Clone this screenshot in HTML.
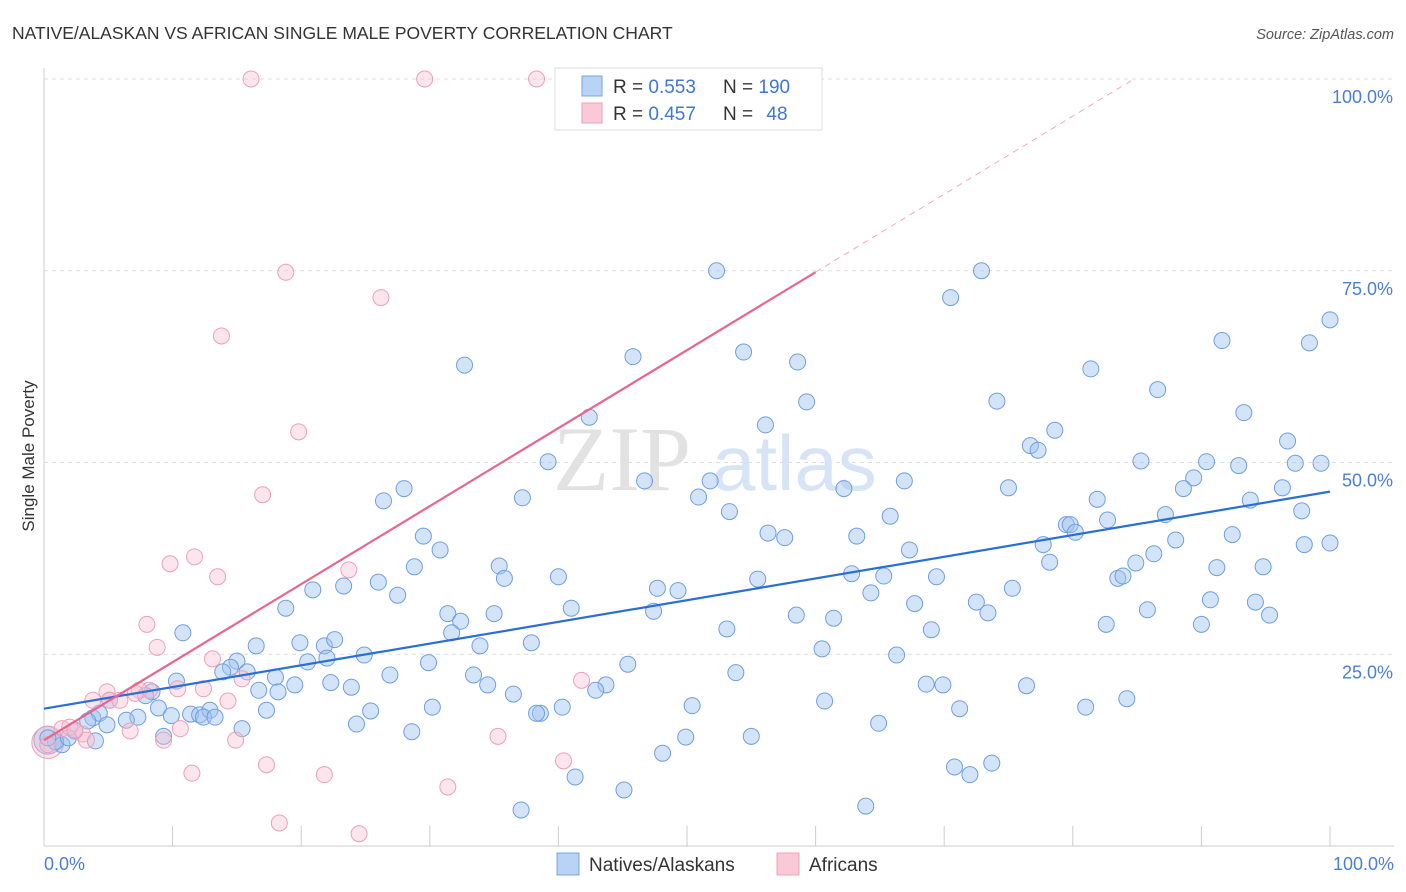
<!DOCTYPE html>
<html><head><meta charset="utf-8"><style>
body{margin:0;background:#fff;font-family:"Liberation Sans",sans-serif;}
svg{display:block}
</style></head><body>
<svg id="chart" width="1406" height="892">
<text x="12" y="39" font-size="17.5" fill="#333">NATIVE/ALASKAN VS AFRICAN SINGLE MALE POVERTY CORRELATION CHART</text>
<text x="1394" y="39" font-size="14.5" fill="#555" font-style="italic" text-anchor="end">Source: ZipAtlas.com</text>
<g id="grid"></g>
<g><text x="553" y="490" font-family="Liberation Serif,serif" font-size="92" fill="#e2e2e2">ZIP</text><text x="712" y="490" font-size="78" fill="#d6e4f5">atlas</text></g>
<text transform="translate(34,456) rotate(-90)" font-size="17" fill="#333" text-anchor="middle">Single Male Poverty</text>
<g id="pts"></g>
<g id="lines"></g>
<g>
<rect x="555" y="68" width="267" height="62" fill="#fff" stroke="#ddd"/>
<rect x="582" y="76" width="20" height="20" fill="#b8d3f5" stroke="#7aa7e0"/>
<rect x="582" y="103" width="20" height="20" fill="#f9c9d7" stroke="#eda0b8"/>
<text x="613" y="93" font-size="19" fill="#333">R = <tspan fill="#3f77d1">0.553</tspan></text>
<text x="723" y="93" font-size="19" fill="#333">N = <tspan fill="#3f77d1">190</tspan></text>
<text x="613" y="120" font-size="19" fill="#333">R = <tspan fill="#3f77d1">0.457</tspan></text>
<text x="723" y="120" font-size="19" fill="#333">N = <tspan fill="#3f77d1" dx="8">48</tspan></text>
</g>
<g>
<rect x="557" y="853" width="22" height="22" fill="#b8d3f5" stroke="#7aa7e0"/>
<text x="589" y="871" font-size="19" fill="#333">Natives/Alaskans</text>
<rect x="777" y="853" width="22" height="22" fill="#f9c9d7" stroke="#eda0b8"/>
<text x="809" y="871" font-size="19" fill="#333">Africans</text>
</g>
</svg>
<script>
const blueX=[52.3,72.9,70.5,100,91.6,98.4,45.8,54.4,58.6,32.7,81.4,86.6,74.1,59.3,42.4,93.3,56.1,78.6,96.7,76.7,77.3,39.2,85.3,90.4,92.9,97.3,99.3,46.7,66.9,89.4,51.8,28.0,62.2,75.0,96.3,26.4,37.2,50.9,88.6,93.8,81.9,53.3,65.8,87.2,97.8,82.7,79.5,79.8,80.2,56.3,57.6,63.2,29.5,92.4,30.8,67.3,77.7,100,88.0,98.0,86.3,84.9,78.2,91.2,94.8,28.8,35.4,35.8,40.0,26.0,47.7,49.3,55.5,62.8,65.3,69.4,83.5,83.9,75.3,20.9,23.3,27.5,64.3,72.5,90.7,94.2,41.0,47.4,67.7,18.8,31.4,35.0,73.4,85.8,58.5,61.4,95.3,32.4,31.7,53.1,69.0,82.6,90.0,10.8,19.9,21.8,22.6,16.5,33.9,37.9,60.5,15.0,14.5,20.5,22.0,24.9,66.3,29.9,45.4,10.3,13.9,15.8,18.0,22.3,23.9,26.9,33.4,34.5,53.8,68.6,69.9,76.4,16.7,18.2,19.5,43.7,42.9,8.4,5.1,7.9,8.9,17.3,36.5,60.7,84.2,30.2,50.4,71.2,81.0,25.4,38.6,38.3,40.3,11.4,12.1,12.9,9.9,7.3,6.4,3.8,4.3,3.4,4.9,12.4,13.3,24.3,15.4,64.9,28.6,9.3,49.9,55.0,4.0,2.4,1.4,0.9,1.9,0.3,48.1,41.3,70.8,72.0,73.7,45.1,63.9,37.1];
const blueY=[75.0,75.0,71.5,68.6,65.9,65.6,63.8,64.4,63.1,62.7,62.2,59.5,58.0,57.9,55.9,56.5,54.9,54.2,52.8,52.2,51.6,50.1,50.2,50.1,49.6,49.9,49.9,47.6,47.6,48.0,47.6,46.6,46.6,46.7,46.7,45.0,45.4,45.5,46.6,45.1,45.2,43.6,43.0,43.2,43.7,42.5,41.9,41.9,40.9,40.8,40.2,40.4,40.4,40.6,38.6,38.6,39.3,39.5,39.9,39.3,38.1,36.9,37.0,36.3,36.4,36.4,36.5,34.9,35.1,34.4,33.6,33.3,34.8,35.5,35.2,35.1,34.9,35.2,33.6,33.4,33.9,32.7,33.0,31.8,32.1,31.8,31.0,30.6,31.6,31.0,30.3,30.3,30.4,30.8,30.1,29.7,30.1,29.3,27.8,28.3,28.2,28.9,28.9,27.8,26.5,26.1,26.9,26.1,26.1,26.5,25.7,24.1,23.3,24.0,24.5,24.9,24.9,23.9,23.7,21.5,22.7,22.7,22.0,21.3,20.7,22.3,22.3,21.0,22.6,21.1,21.0,20.9,20.3,20.1,21.0,21.0,20.3,20.1,19.0,19.6,18.0,17.7,19.8,18.9,19.2,18.1,18.3,17.9,18.1,17.6,17.3,17.3,18.1,17.2,17.1,17.7,17.0,16.8,16.4,16.7,17.3,16.3,15.8,16.8,16.8,15.9,15.3,16.0,14.9,14.3,14.2,14.3,13.7,15.0,13.2,13.6,14.1,14.1,12.1,9.0,10.3,9.3,10.8,7.3,5.2,4.7];
const pinkX=[16.1,29.6,38.3,18.8,26.2,13.8,19.8,17.0,23.7,11.7,9.8,13.5,8.0,8.8,13.1,15.4,8.2,10.4,12.4,7.4,4.9,3.8,5.1,14.3,10.6,6.7,3.0,1.4,2.0,3.3,9.3,14.9,35.3,41.8,40.4,11.5,17.3,21.8,31.4,18.3,24.5,0.3,2.4,5.9,7.1];
const pinkY=[100,100,100,74.8,71.5,66.5,54.0,45.8,36.0,37.7,36.8,35.1,28.9,25.9,24.4,21.8,20.3,20.5,20.5,20.3,20.1,19.0,19.0,18.9,15.3,15.0,14.6,15.3,15.5,13.8,13.8,13.8,14.3,21.6,11.1,9.5,10.6,9.3,7.7,3.0,1.6,13.2,15.1,19.0,19.9];
const blueTrend=[17.9,46.2];
const pinkTrend=[13.8,1.017];
const yTicks=[25,50,75,100];
const yTickLabels=["25.0%","50.0%","75.0%","100.0%"];
const xTicks=[0,10,20,30,40,50,60,70,80,90,100];

const NS="http://www.w3.org/2000/svg";
const sx=v=>44+v*12.86, sy=v=>846-v*7.67;
function mk(tag,attrs,parent){const e=document.createElementNS(NS,tag);for(const k in attrs)e.setAttribute(k,attrs[k]);parent.appendChild(e);return e;}
const grid=document.getElementById('grid');
yTicks.forEach((t,i)=>{
  const l=mk('line',{x1:44,x2:1394,y1:sy(t),y2:sy(t),stroke:'#ddd','stroke-dasharray':'4,4'},grid);
  
  
  const tx=mk('text',{x:1393,y:sy(t)+24,'font-size':18,fill:'#4a7fd4','text-anchor':'end'},grid);
  tx.textContent=yTickLabels[i];
  
  
});
const ax=mk('line',{x1:44,x2:1394,y1:846,y2:846,stroke:'#ccc'},grid);


const ay=mk('line',{x1:44,x2:44,y1:68,y2:846,stroke:'#ccc'},grid);


xTicks.forEach(t=>{
  const l=mk('line',{x1:sx(t),x2:sx(t),y1:826,y2:846,stroke:'#ccc'},grid);
  
  
});
[[0,'0.0%','start',44],[100,'100.0%','end',1394]].forEach(d=>{
  const tx=mk('text',{x:d[3],y:870,'font-size':18,fill:'#4a7fd4','text-anchor':d[2]},grid);
  tx.textContent=d[1];
  
  
});
const pts=document.getElementById('pts');
let bb=mk('circle',{cx:sx(0.3),cy:sy(13.8),r:14,fill:'rgba(160,196,240,0.45)',stroke:'#7aa7e0'},pts);


let pb=mk('circle',{cx:sx(0.3),cy:sy(13.5),r:16,fill:'rgba(245,180,200,0.35)',stroke:'#eda0b8'},pts);


blueX.forEach((x,i)=>{
  const c=mk('circle',{cx:sx(x),cy:sy(blueY[i]),r:8,fill:'rgba(160,196,240,0.45)',stroke:'#6f9fe0','stroke-width':1},pts);
  
  
});
pinkX.forEach((x,i)=>{
  const c=mk('circle',{cx:sx(x),cy:sy(pinkY[i]),r:8,fill:'rgba(248,190,208,0.4)',stroke:'#eda0b8','stroke-width':1},pts);
  
  
});
const lines=document.getElementById('lines');
const bl=mk('line',{x1:sx(0),y1:sy(blueTrend[0]),x2:sx(100),y2:sy(blueTrend[1]),stroke:'#2a6fd6','stroke-width':2.2},lines);


const pEnd=60, pMax=(100-pinkTrend[0])/pinkTrend[1];
const pl=mk('line',{x1:sx(0),y1:sy(pinkTrend[0]),x2:sx(pEnd),y2:sy(pinkTrend[0]+pinkTrend[1]*pEnd),stroke:'#e8658f','stroke-width':2.2},lines);


const pd=mk('line',{x1:sx(pEnd),y1:sy(pinkTrend[0]+pinkTrend[1]*pEnd),x2:sx(pMax),y2:sy(100),stroke:'#f0a8c0','stroke-width':1,'stroke-dasharray':'6,5'},lines);


</script>
</body></html>
